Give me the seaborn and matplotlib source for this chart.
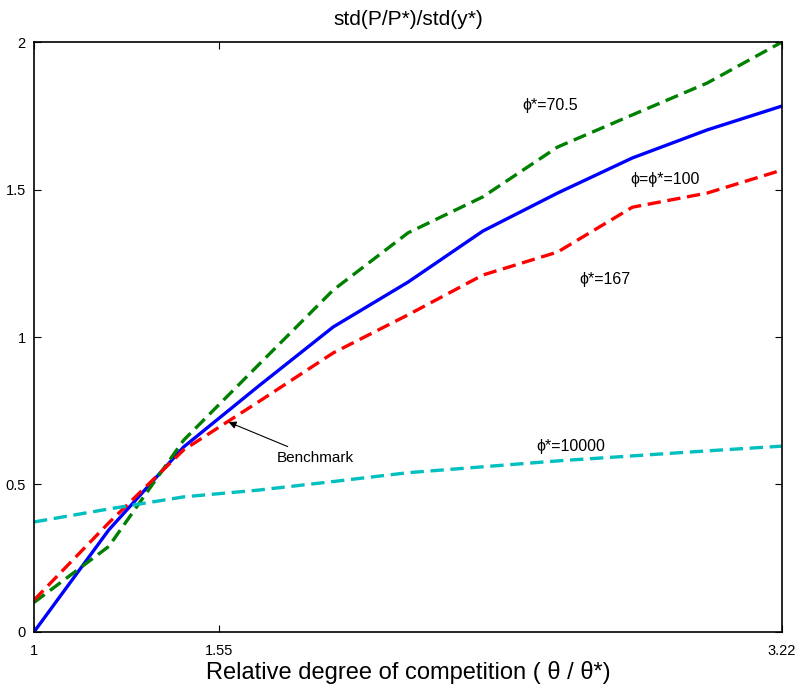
import matplotlib
matplotlib.use('Agg')
import matplotlib.pyplot as plt
import seaborn as sns
import numpy as np
import pandas as pd

# relative degree of competition (theta / theta*)
theta_ratio = [1.0, 1.222, 1.444, 1.666, 1.888, 2.11, 2.332, 2.554, 2.776, 2.998, 3.22]

# std(P/P*)/std(y*) for each phi*
benchmark_100 = [0.0, 0.346, 0.627, 0.833, 1.034, 1.186, 1.359, 1.488, 1.607, 1.702, 1.783]
phi_70 = [0.10, 0.29, 0.65, 0.905, 1.159, 1.353, 1.475, 1.644, 1.753, 1.861, 2.0]
phi_167 = [0.108, 0.37, 0.617, 0.78, 0.946, 1.075, 1.21, 1.288, 1.44, 1.488, 1.566]
phi_10000 = [0.373, 0.417, 0.458, 0.481, 0.51, 0.54, 0.56, 0.58, 0.597, 0.614, 0.63]

x_ticks = [1, 1.55, 3.22]
x_tick_labels = ['1', '1.55', '3.22']
y_ticks = [0, 0.5, 1, 1.5, 2]
y_tick_labels = ['0', '0.5', '1', '1.5', '2']

sns.set_style('ticks')
plt.rcParams['font.family'] = ['Liberation Sans', 'DejaVu Sans']
plt.rcParams['xtick.direction'] = 'in'
plt.rcParams['ytick.direction'] = 'in'
plt.rcParams['text.color'] = 'black'
plt.rcParams['axes.labelcolor'] = 'black'
plt.rcParams['xtick.color'] = 'black'
plt.rcParams['ytick.color'] = 'black'

fig = plt.figure(figsize=(8.01, 6.91), dpi=100)
ax = fig.add_axes([0.0424, 0.0854, 0.9339, 0.8538])

dash = (4, 2)
sns.lineplot(x=theta_ratio, y=benchmark_100, ax=ax, color='#0000ff', linewidth=2.4)
sns.lineplot(x=theta_ratio, y=phi_70, ax=ax, color='#008000', linewidth=2.4)
sns.lineplot(x=theta_ratio, y=phi_167, ax=ax, color='#ff0000', linewidth=2.4)
sns.lineplot(x=theta_ratio, y=phi_10000, ax=ax, color='#00bfbf', linewidth=2.4)
# dashed style for the non-benchmark curves
for line in ax.lines[1:]:
    line.set_dashes(dash)

ax.set_xlim(1, 3.22)
ax.set_ylim(0, 2)
ax.set_xticks(x_ticks)
ax.set_xticklabels(x_tick_labels, fontsize=10.5)
ax.set_yticks(y_ticks)
ax.set_yticklabels(y_tick_labels, fontsize=10.5)
ax.tick_params(top=True, right=True, length=5, width=0.8)
ax.tick_params(axis='x', pad=9)
ax.tick_params(axis='y', pad=6)
for spine in ax.spines.values():
    spine.set_linewidth(1.2)
    spine.set_color('black')

ax.set_title('std(P/P*)/std(y*)', fontsize=15, pad=12)
ax.set_xlabel('Relative degree of competition ( \u03b8 / \u03b8*)', fontsize=17, labelpad=2)

# curve labels
ax.text(2.45, 1.77, '\u03d5*=70.5', fontsize=11.5)
ax.text(2.77, 1.52, '\u03d5=\u03d5*=100', fontsize=11.5)
ax.text(2.62, 1.18, '\u03d5*=167', fontsize=11.5)
ax.text(2.49, 0.615, '\u03d5*=10000', fontsize=11.5)
ax.annotate('Benchmark', xy=(1.57, 0.715), xytext=(1.72, 0.59), fontsize=11,
            arrowprops=dict(arrowstyle='-|>', color='black', lw=0.8, mutation_scale=11),
            va='center', ha='left')

fig.savefig('out.png', dpi=100)
